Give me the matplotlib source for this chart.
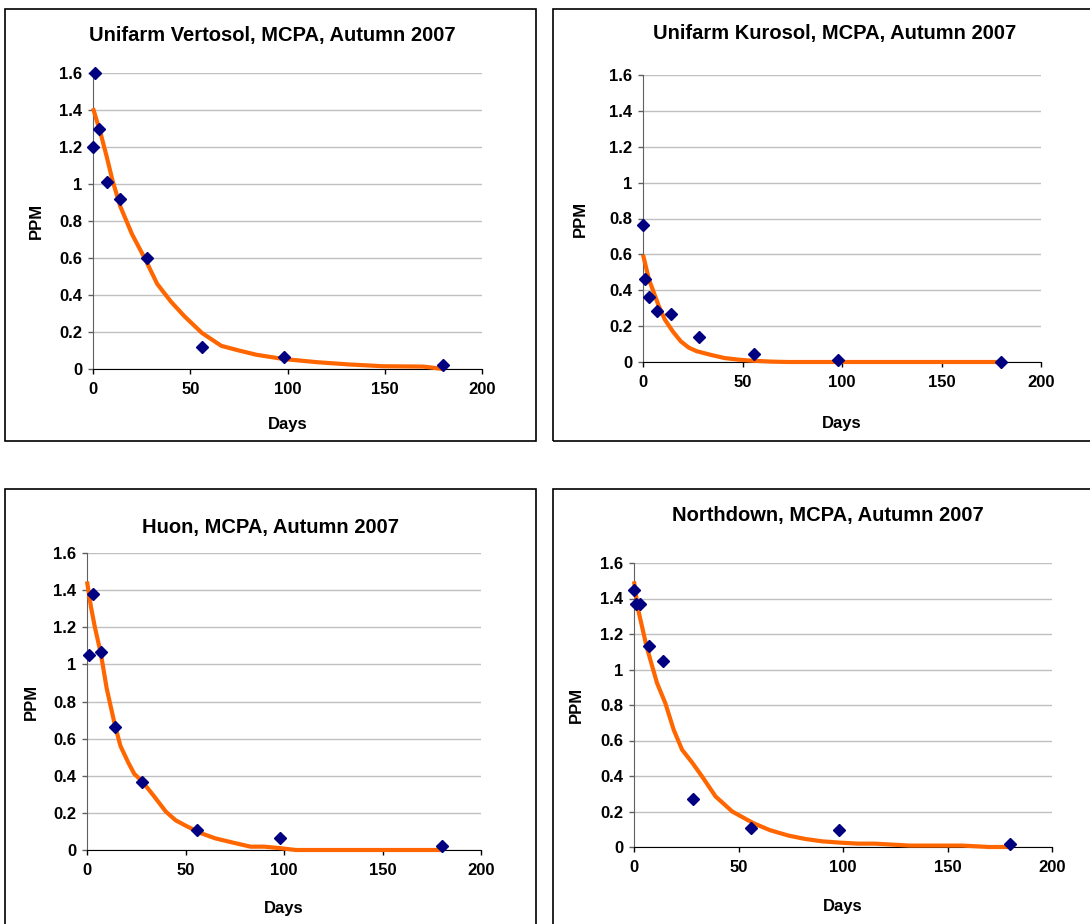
#!/usr/bin/env python
# -*- coding: utf-8 -*-
"""MCPA dissipation, Autumn 2007: four soils, measured PPM vs fitted decay curve."""

import matplotlib
matplotlib.use("Agg")
import matplotlib.pyplot as plt
from matplotlib.patches import Rectangle
from matplotlib.ticker import FuncFormatter

plt.rcParams["font.family"] = ["Liberation Sans", "DejaVu Sans"]
plt.rcParams["font.weight"] = "bold"

W, H = 1090, 924

# ---- data ----
titles = [
    "Unifarm Vertosol, MCPA, Autumn 2007",
    "Unifarm Kurosol, MCPA, Autumn 2007",
    "Huon, MCPA, Autumn 2007",
    "Northdown, MCPA, Autumn 2007",
]

vertosol_days = [0, 1, 3, 7, 14, 28, 56, 98, 180]
vertosol_ppm = [1.20, 1.60, 1.30, 1.01, 0.92, 0.60, 0.12, 0.065, 0.023]
vertosol_fit_days = [0, 4, 7, 10, 14, 20, 27, 33, 40, 47, 56, 66, 75, 84, 98, 115, 131, 149, 170, 180]
vertosol_fit_ppm = [1.41, 1.27, 1.15, 1.02, 0.88, 0.73, 0.59, 0.46, 0.365, 0.285, 0.195, 0.125,
                    0.10, 0.077, 0.054, 0.037, 0.025, 0.015, 0.013, 0.0]

kurosol_days = [0, 1, 3, 7, 14, 28, 56, 98, 180]
kurosol_ppm = [0.765, 0.464, 0.36, 0.282, 0.267, 0.137, 0.043, 0.009, 0.0]
kurosol_fit_days = [0, 3, 8, 11, 15, 19, 23, 27, 34, 41, 48, 55, 65, 73, 100, 140, 180]
kurosol_fit_ppm = [0.598, 0.46, 0.31, 0.236, 0.17, 0.115, 0.08, 0.06, 0.04, 0.022, 0.013, 0.007,
                   0.002, 0.0, 0.0, 0.0, 0.0]

huon_days = [1, 3, 7, 14, 28, 56, 98, 180]
huon_ppm = [1.053, 1.379, 1.068, 0.663, 0.369, 0.108, 0.067, 0.023]
huon_fit_days = [0, 2, 4, 7, 10, 14, 17, 21, 24, 28, 34, 40, 45, 51, 58, 65, 74, 83, 90, 98, 106, 140, 180]
huon_fit_ppm = [1.447, 1.31, 1.2, 1.06, 0.87, 0.68, 0.56, 0.47, 0.41, 0.37, 0.29, 0.207, 0.16, 0.126,
                0.09, 0.063, 0.04, 0.018, 0.018, 0.01, 0.0, 0.0, 0.0]

northdown_days = [0, 1, 3, 7, 14, 28, 56, 98, 180]
northdown_ppm = [1.45, 1.369, 1.369, 1.132, 1.046, 0.272, 0.105, 0.098, 0.019]
northdown_fit_days = [0, 2, 6, 11, 15, 19, 23, 28, 33, 39, 47, 57, 65, 74, 82, 90, 98, 107, 115, 132,
                      157, 170, 180]
northdown_fit_ppm = [1.497, 1.337, 1.13, 0.924, 0.81, 0.66, 0.548, 0.473, 0.39, 0.285, 0.2, 0.135,
                     0.095, 0.064, 0.045, 0.032, 0.025, 0.019, 0.019, 0.008, 0.008, 0.0, 0.0]

x_ticks = [0, 50, 100, 150, 200]
y_ticks = [0, 0.2, 0.4, 0.6, 0.8, 1.0, 1.2, 1.4, 1.6]

# ---- layout (pixels in the 1090x924 canvas) ----
# axes: (x of day 0, x of day 200, y of ppm 0, y of ppm 1.6)
axes_px = [
    (93, 482, 369, 73),
    (643, 1041, 362, 75),
    (87, 481, 850, 553),
    (634, 1052, 847, 563),
]
# outer frames: (left, top, right, bottom)
frames_px = [
    (5, 9, 536, 441),
    (553, 9, 1095, 441),
    (5, 489, 536, 930),
    (553, 489, 1095, 930),
]
title_px = [(272, 35), (835, 34), (271, 527), (828, 515)]
xlabel_y = [425, 423, 908, 906]
ylabel_x = [36, 580, 31, 576]

NAVY = "#000080"
ORANGE = "#FF6600"


def fx(px):
    return px / W


def fy(py):
    return 1.0 - py / H


def draw_panel(fig, i, days, ppm, fit_days, fit_ppm):
    x0, x1, y0, y1 = axes_px[i]
    ax = fig.add_axes([fx(x0), fy(y0), fx(x1 - x0), (y0 - y1) / H])

    ax.plot(fit_days, fit_ppm, color=ORANGE, linewidth=3.0, solid_capstyle="butt",
            solid_joinstyle="round", clip_on=False, zorder=3)
    ax.plot(days, ppm, linestyle="none", marker="D", markersize=6.3, color=NAVY,
            markeredgecolor=NAVY, clip_on=False, zorder=4)

    ax.set_xlim(0, 200)
    ax.set_ylim(0, 1.6)
    ax.set_xticks(x_ticks)
    ax.set_yticks(y_ticks)
    ax.yaxis.set_major_formatter(FuncFormatter(lambda v, p: f"{v:g}"))
    ax.grid(axis="y", color="#c0c0c0", linewidth=1.0)
    ax.set_axisbelow(True)

    for side in ("top", "right"):
        ax.spines[side].set_visible(False)
    ax.spines["left"].set_color("#606060")
    ax.spines["bottom"].set_color("black")
    ax.tick_params(axis="both", direction="out", length=3.5, width=1.0, labelsize=12)
    ax.tick_params(axis="x", pad=6)
    ax.tick_params(axis="y", pad=4, color="#606060")
    for lab in ax.get_xticklabels() + ax.get_yticklabels():
        lab.set_fontweight("bold")

    tx, ty = title_px[i]
    fig.text(fx(tx), fy(ty), titles[i], ha="center", va="center", fontsize=14.5, fontweight="bold")
    fig.text(fx((x0 + x1) / 2), fy(xlabel_y[i]), "Days", ha="center", va="center",
             fontsize=12, fontweight="bold")
    fig.text(fx(ylabel_x[i]), fy((y0 + y1) / 2), "PPM", ha="center", va="center",
             rotation=90, fontsize=12, fontweight="bold")

    l, t, r, b = frames_px[i]
    fig.add_artist(Rectangle((fx(l), fy(b)), fx(r - l), (b - t) / H, transform=fig.transFigure,
                             fill=False, edgecolor="black", linewidth=1.2))
    return ax


def main():
    fig = plt.figure(figsize=(W / 100, H / 100), dpi=100)
    draw_panel(fig, 0, vertosol_days, vertosol_ppm, vertosol_fit_days, vertosol_fit_ppm)
    draw_panel(fig, 1, kurosol_days, kurosol_ppm, kurosol_fit_days, kurosol_fit_ppm)
    draw_panel(fig, 2, huon_days, huon_ppm, huon_fit_days, huon_fit_ppm)
    draw_panel(fig, 3, northdown_days, northdown_ppm, northdown_fit_days, northdown_fit_ppm)
    fig.savefig("out.png", dpi=100)


if __name__ == "__main__":
    main()
